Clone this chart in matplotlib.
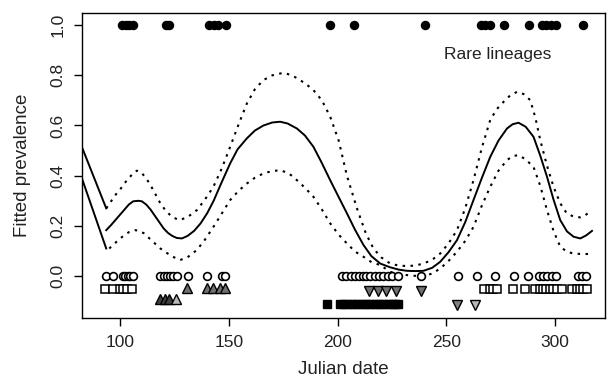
import matplotlib
matplotlib.use("Agg")
import matplotlib.pyplot as plt

plt.rcParams['font.family'] = ['Liberation Sans', 'DejaVu Sans']

# fitted curve and confidence band
day = [93.6, 96, 98, 100, 102, 104, 106, 108.4, 110, 112, 114, 116, 118, 120, 122, 124,
       126, 128.4, 131, 134, 137, 140, 143, 146.5, 150.6, 154, 158.3, 162, 165.9, 170,
       173.6, 177, 181.3, 185, 188.9, 192.5, 196.6, 200.5, 204.3, 208, 211.9, 215.5,
       219.6, 224.2, 228, 231.9, 235.7, 239.5, 243.5, 247.2, 251, 254.9, 258.7, 262.5,
       266.3, 270.2, 274, 277.9, 280.5, 283.2, 286.5, 290.1, 293.2, 296.3, 299.3, 302.4,
       305.5, 308.5, 311.6, 314.3, 317]
fit = [0.183, 0.205, 0.225, 0.245, 0.265, 0.285, 0.298, 0.30, 0.298, 0.285, 0.265, 0.24,
       0.215, 0.19, 0.172, 0.16, 0.152, 0.15, 0.16, 0.18, 0.21, 0.25, 0.30, 0.37, 0.449,
       0.505, 0.549, 0.58, 0.60, 0.612, 0.615, 0.608, 0.588, 0.56, 0.515, 0.455, 0.382,
       0.315, 0.25, 0.185, 0.124, 0.08, 0.05, 0.035, 0.026, 0.021, 0.02, 0.021, 0.033,
       0.057, 0.095, 0.143, 0.215, 0.303, 0.39, 0.475, 0.54, 0.588, 0.605, 0.611, 0.595,
       0.555, 0.48, 0.396, 0.305, 0.223, 0.178, 0.157, 0.15, 0.162, 0.18]
upper_day = [93.6, 96, 98, 100, 102, 104, 106, 107.7, 109.5, 111, 113.5, 116, 118.5, 121,
             124, 127.3, 131, 135.3, 139, 142.9, 146.8, 150.6, 154.5, 158.3, 162, 165.9,
             170, 175.1, 179, 182, 185.5, 188.9, 192.8, 196.6, 200.5, 204.3, 208.9, 213,
             216.5, 220, 224.2, 228, 231.9, 235.7, 239.5, 243.5, 247.2, 251, 254.9, 258.7,
             262.5, 266.3, 270.2, 273.2, 276.3, 279.4, 282.5, 285.6, 288.6, 291, 293.2,
             296.3, 299.3, 302.4, 305.4, 308.5, 311.6, 313.5, 315.4]
upper = [0.27, 0.30, 0.325, 0.345, 0.37, 0.39, 0.41, 0.42, 0.415, 0.40, 0.37, 0.33, 0.29,
         0.26, 0.235, 0.223, 0.235, 0.263, 0.305, 0.356, 0.43, 0.515, 0.605, 0.688, 0.745,
         0.781, 0.80, 0.81, 0.80, 0.785, 0.765, 0.741, 0.70, 0.635, 0.54, 0.40, 0.27, 0.17,
         0.11, 0.075, 0.05, 0.042, 0.04, 0.042, 0.05, 0.065, 0.09, 0.13, 0.183, 0.27,
         0.382, 0.51, 0.622, 0.665, 0.694, 0.72, 0.734, 0.725, 0.701, 0.63, 0.542, 0.44,
         0.356, 0.29, 0.25, 0.237, 0.234, 0.24, 0.252]
lower_day = [95, 97.5, 100, 102, 104, 107, 109, 111, 113.5, 116, 118.5, 121, 124, 127.6,
             131, 135.3, 139, 142.9, 146.8, 150.6, 154.5, 158.3, 162, 165.9, 169.7, 173.6,
             177.5, 181.3, 185, 188.9, 192.8, 196.6, 200.5, 204.3, 208, 211.9, 215.7,
             219.6, 224.2, 228, 231.9, 235.7, 239.5, 243.5, 247.2, 251, 254.9, 258.7,
             262.5, 266.3, 270.2, 274, 277.9, 280.5, 283.2, 286.5, 290.1, 293.2, 296.3,
             299.3, 302.4, 305.5, 308.5, 312, 316.2]
lower = [0.11, 0.13, 0.15, 0.163, 0.175, 0.183, 0.18, 0.17, 0.15, 0.13, 0.11, 0.095, 0.078,
         0.064, 0.075, 0.104, 0.145, 0.196, 0.25, 0.303, 0.34, 0.369, 0.392, 0.409, 0.418,
         0.422, 0.41, 0.382, 0.352, 0.316, 0.265, 0.21, 0.165, 0.13, 0.098, 0.077, 0.055,
         0.044, 0.017, 0.008, 0.004, 0.001, 0.0, 0.01, 0.03, 0.06, 0.097, 0.14, 0.196,
         0.28, 0.356, 0.42, 0.462, 0.478, 0.482, 0.465, 0.435, 0.36, 0.263, 0.18, 0.117,
         0.097, 0.09, 0.088, 0.088]
# straight segments entering from the left edge
lead_day = [80, 93.6]
lead_upper = [0.567, 0.27]
lead_lower = [0.45, 0.11]

# observed rare lineages (top row)
rare_day = [100.7, 102.5, 104.3, 106, 121, 122.4, 141, 143, 145, 148.5, 196.5, 207.6,
            240.4, 266, 268, 270, 276.5, 288, 294, 296, 298, 300.5, 312.8]

# other lineages along the bottom
circ_day = [93.3, 96.9, 101.2, 102.3, 103.4, 104.6, 105.8, 118.5, 120, 121.5, 123, 124.5,
            126, 131, 139.9, 146.8, 148.3, 202, 204, 206, 208, 210, 211.5, 213, 215, 217,
            219, 221, 223, 225, 228, 238.3, 255.5, 264, 272.3, 281.3, 287.4, 292.7, 294.5,
            296.5, 298.5, 300.6, 310.4, 312.4, 314.4]
sq_day = [93, 96.5, 100, 101.5, 103, 105.5, 267.5, 270, 271.5, 273.5, 280.5, 286, 291,
          293, 294.5, 296, 297.5, 299, 301, 303, 308, 310, 311.5, 313, 314.5]
tri_up_day = [130.7, 139.9, 142.9, 146, 148.3]
tri_up_dark_day = [118.5, 120.5, 122.5]
tri_up_light_day = [125.5]
tri_dn_day = [214.5, 218.8, 222.4, 227, 238.3]
tri_dn_low_day = [254.9]
tri_dn_light_day = [263.3]
fsq_day = [195.1, 201.2, 203, 205, 207, 209, 211, 213, 215, 217, 219, 221, 223, 225,
           226.5, 228]

fig = plt.figure(figsize=(6.08, 3.82), dpi=100)
ax = fig.add_axes([0.135, 0.1675, 0.8605, 0.799])

dots = (0, (1.2, 2.6))
ax.plot(day, fit, color='black', lw=1.4)
ax.plot(upper_day, upper, color='black', lw=1.5, linestyle=dots)
ax.plot(lower_day, lower, color='black', lw=1.5, linestyle=dots)
ax.plot(lead_day, lead_upper, color='black', lw=1.4)
ax.plot(lead_day, lead_lower, color='black', lw=1.4)

ax.plot(rare_day, [1.0] * len(rare_day), 'o', color='black', ms=5.8)

ax.plot(circ_day, [0.0] * len(circ_day), 'o', mfc='white', mec='black', ms=5.6, mew=1.2)
ax.plot(sq_day, [-0.05] * len(sq_day), 's', mfc='white', mec='black', ms=5.8, mew=1.1)
ax.plot(tri_up_day, [-0.047] * len(tri_up_day), '^', mfc='#707070', mec='black', ms=6.8, mew=1.0)
ax.plot(tri_up_dark_day, [-0.092] * len(tri_up_dark_day), '^', mfc='#404040', mec='black', ms=6.8, mew=1.0)
ax.plot(tri_up_light_day, [-0.092] * len(tri_up_light_day), '^', mfc='#b8b8b8', mec='black', ms=6.8, mew=1.0)
ax.plot(tri_dn_day, [-0.058] * len(tri_dn_day), 'v', mfc='#707070', mec='black', ms=6.8, mew=1.0)
ax.plot(tri_dn_low_day, [-0.115] * len(tri_dn_low_day), 'v', mfc='#808080', mec='black', ms=6.8, mew=1.0)
ax.plot(tri_dn_light_day, [-0.115] * len(tri_dn_light_day), 'v', mfc='#b8b8b8', mec='black', ms=6.8, mew=1.0)
ax.plot(fsq_day, [-0.11] * len(fsq_day), 's', color='black', ms=5.8)

ax.text(273.4, 0.884, 'Rare lineages', ha='center', va='center', fontsize=12.5,
        color='#222222')

ax.set_xlim(82.5, 323.1)
ax.set_ylim(-0.167, 1.049)
ax.set_xticks([100, 150, 200, 250, 300])
ax.set_yticks([0.0, 0.2, 0.4, 0.6, 0.8, 1.0])
ax.set_yticklabels(['0.0', '0.2', '0.4', '0.6', '0.8', '1.0'], rotation=90, va='center')
ax.tick_params(direction='out', length=6, width=1, labelsize=12.5, pad=6,
               labelcolor='#222222')
for s in ax.spines.values():
    s.set_linewidth(1.0)
ax.set_xlabel('Julian date', fontsize=13.5, color='#222222')
ax.set_ylabel('Fitted prevalence', fontsize=13.5, color='#222222')
ax.xaxis.set_label_coords(0.5, -0.17)
ax.xaxis.label.set_va('center')
ax.yaxis.set_label_coords(-0.113, 0.5)
ax.yaxis.label.set_va('center')

fig.savefig('out.png', dpi=100)
